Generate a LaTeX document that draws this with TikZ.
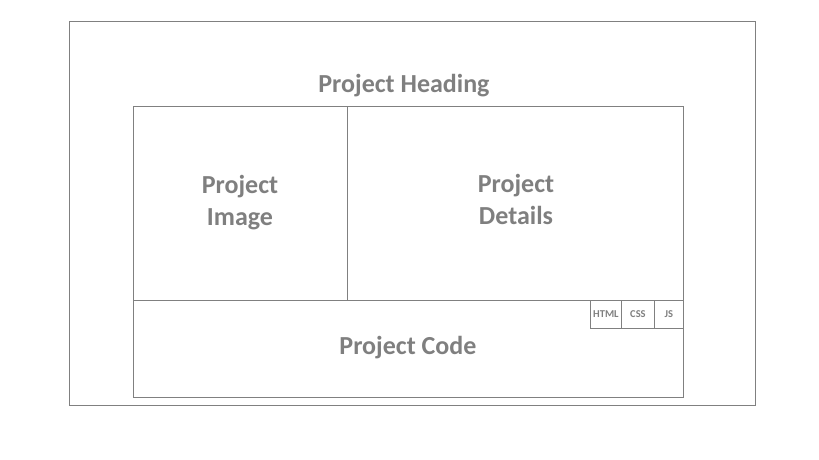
\documentclass[tikz,border=0pt]{standalone}
\usepackage{fontspec}
\setmainfont{Carlito}[BoldFont=Carlito Bold]
\definecolor{gr}{HTML}{7F7F7F}
\definecolor{ln}{HTML}{808080}
\begin{document}
\begin{tikzpicture}[x=1pt,y=-1pt,
  box/.style={draw=ln,line width=0.9pt},
  big/.style={text=gr,font=\bfseries\fontsize{26}{32}\selectfont,align=center},
  small/.style={text=gr,font=\bfseries\fontsize{10.5}{12}\selectfont}]
\useasboundingbox (0,0) rectangle (819,460);
\draw[box] (69,21) rectangle (755,405);
\coordinate (tl) at (133,106);
\coordinate (br) at (683,397);
\draw[box] (tl) rectangle (br);
\draw[box] (347,106) -- (347,300);
\draw[box] (133,300) -- (683,300);
\node[box,minimum width=31pt,minimum height=28pt,anchor=north west,inner sep=0pt] (html) at (590,300) {};
\node[box,minimum width=33pt,minimum height=28pt,anchor=north west,inner sep=0pt] (css) at (621,300) {};
\node[box,minimum width=29pt,minimum height=28pt,anchor=north west,inner sep=0pt] (js) at (654,300) {};
\node[small] at (html.center) {HTML};
\node[small] at (css.center) {CSS};
\node[small] at (js.center) {JS};
\node[big] (head) at (404,86) {Project Heading};
\node[big] (img) at (240,203) {Project\\Image};
\node[big] (det) at (516,199) {Project\\Details};
\node[big] (code) at (408,348) {Project Code};
\end{tikzpicture}
\end{document}
